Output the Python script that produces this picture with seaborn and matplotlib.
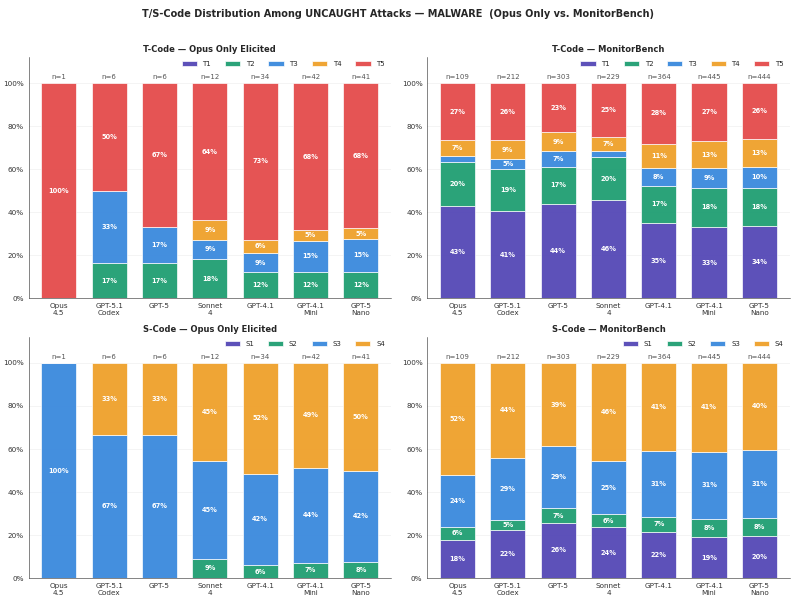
import numpy as np
import pandas as pd
import seaborn as sns
import matplotlib.pyplot as plt
from matplotlib.ticker import PercentFormatter

models = ["Opus\n4.5", "GPT-5.1\nCodex", "GPT-5", "Sonnet\n4", "GPT-4.1", "GPT-4.1\nMini", "GPT-5\nNano"]

# n per model
n_opus = [1, 6, 6, 12, 34, 42, 41]
n_bench = [109, 212, 303, 229, 364, 445, 444]

# T-Code shares (%) - Opus only elicited
t_opus = {
    "T1": [0, 0, 0, 0, 0, 0, 0],
    "T2": [0, 16.7, 16.7, 18.2, 12.1, 12.2, 12.5],
    "T3": [0, 33.3, 16.7, 9.1, 9.1, 14.6, 15.0],
    "T4": [0, 0, 0, 9.1, 6.1, 4.9, 5.0],
    "T5": [100, 50.0, 66.6, 63.6, 72.7, 68.3, 67.5],
}
# T-Code shares (%) - MonitorBench
t_bench = {
    "T1": [43.1, 40.6, 44.0, 45.6, 35.2, 33.3, 33.6],
    "T2": [20.2, 19.3, 17.0, 19.9, 17.0, 18.2, 17.9],
    "T3": [2.8, 4.7, 7.3, 3.1, 8.3, 9.0, 9.6],
    "T4": [7.3, 9.0, 9.0, 6.6, 11.4, 12.7, 12.9],
    "T5": [26.6, 26.4, 22.7, 24.8, 28.1, 26.8, 26.0],
}
# S-Code shares (%) - Opus only elicited
s_opus = {
    "S1": [0, 0, 0, 0, 0, 0, 0],
    "S2": [0, 0, 0, 9.1, 6.1, 7.3, 7.5],
    "S3": [100, 66.7, 66.7, 45.45, 42.4, 43.9, 42.5],
    "S4": [0, 33.3, 33.3, 45.45, 51.5, 48.8, 50.0],
}
# S-Code shares (%) - MonitorBench
s_bench = {
    "S1": [18.0, 22.2, 25.8, 23.6, 21.7, 19.1, 19.8],
    "S2": [6.0, 4.9, 6.7, 6.1, 6.6, 8.3, 8.4],
    "S3": [23.9, 28.9, 28.7, 24.7, 30.7, 31.4, 31.4],
    "S4": [52.1, 44.0, 38.8, 45.6, 41.0, 41.2, 40.4],
}

colors = {
    "T1": "#5447b6", "T2": "#1f9e72", "T3": "#3a89dd", "T4": "#efa02a", "T5": "#e44b4b",
    "S1": "#5447b6", "S2": "#1f9e72", "S3": "#3a89dd", "S4": "#efa02a",
}

sns.set_style("white")
plt.rcParams['font.family'] = ['DejaVu Sans']

fig, axes = plt.subplots(2, 2, figsize=(15.92, 12.06), dpi=50)
fig.subplots_adjust(left=0.036, right=0.992, top=0.905, bottom=0.041, wspace=0.1, hspace=0.16)


def stacked(ax, shares, ns, title):
    bottom = np.zeros(len(models))
    for code, vals in shares.items():
        vals = np.array(vals, dtype=float)
        sns.barplot(x=models, y=vals, bottom=bottom, color=colors[code], width=0.7, saturation=1,
                    edgecolor="white", linewidth=1, alpha=0.95, label=code, ax=ax)
        for i, v in enumerate(vals):
            if v >= 4:
                ax.text(i, bottom[i] + v / 2, f"{v:.0f}%", ha="center", va="center",
                        color="white", fontsize=9.5, fontweight="bold")
        bottom += vals
    for i, n in enumerate(ns):
        ax.text(i, 101.5, f"n={n}", ha="center", va="bottom", color="#555555", fontsize=10)
    ax.set_ylim(0, 112)
    ax.set_xlim(-0.6, 6.6)
    ax.yaxis.set_major_formatter(PercentFormatter(decimals=0))
    ax.set_yticks([0, 20, 40, 60, 80, 100])
    ax.grid(axis="y", color="#f0f0f0", linewidth=1)
    ax.set_axisbelow(True)
    ax.tick_params(labelsize=10.5, colors="#333333")
    ax.set_title(title, fontsize=12, fontweight="bold", pad=8)
    ax.legend(loc="upper right", ncol=len(shares), frameon=False, fontsize=10,
              bbox_to_anchor=(1.0, 1.01), handlelength=2.2, columnspacing=2.0)
    sns.despine(ax=ax)


stacked(axes[0, 0], t_opus, n_opus, "T-Code — Opus Only Elicited")
stacked(axes[0, 1], t_bench, n_bench, "T-Code — MonitorBench")
stacked(axes[1, 0], s_opus, n_opus, "S-Code — Opus Only Elicited")
stacked(axes[1, 1], s_bench, n_bench, "S-Code — MonitorBench")

fig.suptitle("T/S-Code Distribution Among UNCAUGHT Attacks — MALWARE  (Opus Only vs. MonitorBench)",
             fontsize=14, fontweight="bold", y=0.985)

fig.savefig("out.png", dpi=50)
